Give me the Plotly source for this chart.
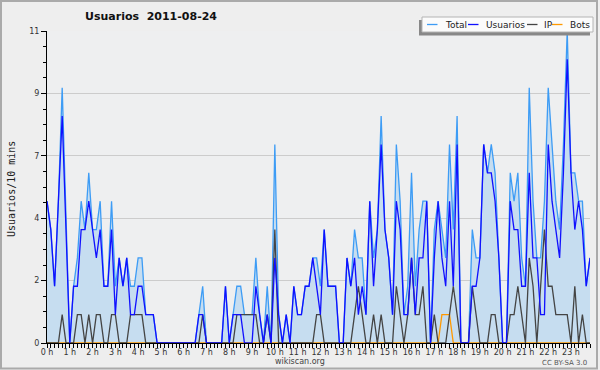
import plotly.graph_objects as go

# ---- data (10-minute slots, 2011-08-24) ----
slot_minutes = list(range(0, 1440, 10))
usuarios = [5,4,2,5,8,4,0,2,2,4,4,5,4,3,4,2,2,4,1,3,2,3,1,1,2,2,1,1,1,0,
            0,0,0,0,0,0,0,0,0,0,1,1,0,0,0,0,0,2,0,1,1,1,0,0,0,2,1,0,1,0,
            3,1,0,1,0,2,1,1,2,2,3,2,1,4,2,2,2,0,0,3,2,3,1,2,1,5,2,4,7,4,
            3,1,5,4,1,1,3,1,3,3,5,0,3,5,3,2,5,2,7,0,0,0,2,2,3,7,6,6,5,3,
            0,0,5,4,4,2,2,6,3,3,1,1,7,5,4,3,6,10,6,4,5,4,2,3]
ip = [0,0,0,0,1,0,0,0,1,1,0,1,0,1,1,0,0,1,1,0,0,0,1,1,1,1,0,0,0,0,
      0,0,0,0,0,0,0,0,0,0,0,1,0,0,0,0,0,0,0,0,1,1,1,1,1,1,0,0,1,0,
      4,0,0,0,0,0,0,0,0,0,0,1,1,0,0,0,0,0,0,0,0,1,2,1,0,0,1,0,1,0,
      0,0,2,1,0,1,3,1,1,2,0,0,1,0,0,0,1,2,1,0,0,0,2,1,0,0,0,1,1,0,
      0,0,1,1,2,1,0,3,2,0,2,4,2,2,1,1,1,1,0,2,0,1,0,0]
bots = [0]*104 + [1,1,1] + [0]*37
total = [5,4,2,5,9,4,0,2,3,5,4,6,4,4,5,2,2,5,2,3,2,3,2,2,3,3,1,1,1,0,
         0,0,0,0,0,0,0,0,0,0,1,2,0,0,0,0,0,2,0,1,2,2,1,1,1,3,1,0,2,0,
         7,1,0,1,0,2,1,1,2,2,3,3,2,4,2,2,2,0,0,3,2,4,3,3,1,5,3,4,8,4,
         3,1,7,5,1,2,6,2,4,5,5,0,4,5,4,3,7,4,8,0,0,0,4,3,3,7,6,7,6,3,
         0,0,6,5,6,3,2,9,5,3,3,5,9,7,5,4,7,11,6,6,5,5,2,3]
hour_labels = [f"{h} h" for h in range(24)]
y_tick_values = [0, 2.2, 4.4, 6.6, 8.8, 11]
y_tick_labels = ["0", "2", "4", "7", "9", "11"]
y_minor_values = [0.55, 1.1, 1.65, 2.75, 3.3, 3.85, 4.95, 5.5, 6.05,
                  7.15, 7.7, 8.25, 9.35, 9.9, 10.45]

W, H = 600, 370
ML, MR, MT, MB = 47, 10, 31, 27
PW, PH = W - ML - MR, H - MT - MB

def px(x):
    return (x - ML) / PW

def py(y):
    return (H - MB - y) / PH

fig = go.Figure()
fig.add_trace(go.Scatter(x=slot_minutes, y=total, name="Total", mode="lines",
                         line=dict(color="#3d9cf5", width=1.3),
                         fill="tozeroy", fillcolor="#c6ddf0"))
fig.add_trace(go.Scatter(x=slot_minutes, y=bots, name="Bots", mode="lines",
                         line=dict(color="#ff9900", width=1.3)))
fig.add_trace(go.Scatter(x=slot_minutes, y=ip, name="IP", mode="lines",
                         line=dict(color="#444444", width=1.3)))
fig.add_trace(go.Scatter(x=slot_minutes, y=usuarios, name="Usuarios", mode="lines",
                         line=dict(color="#1010ff", width=1.3)))

fig.update_layout(
    width=W, height=H,
    margin=dict(l=ML, r=MR, t=MT, b=MB, pad=0),
    paper_bgcolor="#eeeeee",
    plot_bgcolor="#eeeff0",
    showlegend=False,
    font=dict(family="DejaVu Sans", size=8, color="#333333"),
    title=dict(text="Usuarios  2011-08-24", x=151 / W, xanchor="center",
               y=1 - 16 / H, yanchor="middle", yref="container",
               font=dict(family="DejaVu Sans", size=11, color="#111111", weight="bold")),
)
fig.update_xaxes(range=[0, 1430], showgrid=False, zeroline=False,
                 showline=True, linecolor="black", linewidth=1,
                 tickvals=[h * 60 for h in range(24)], ticktext=hour_labels,
                 ticks="outside", ticklen=4, tickcolor="black", tickwidth=1,
                 ticklabelstandoff=-3,
                 minor=dict(dtick=10, ticks="outside", ticklen=4, tickcolor="black", tickwidth=1),
                 tickfont=dict(size=8, color="#333333"), layer="above traces",
                 fixedrange=True)
fig.update_yaxes(range=[0, 11], showgrid=True, gridcolor="#cccccc", gridwidth=1,
                 zeroline=False, showline=True, linecolor="black", linewidth=1,
                 tickvals=y_tick_values, ticktext=y_tick_labels,
                 ticks="outside", ticklen=5, tickcolor="black", tickwidth=1,
                 minor=dict(tickvals=y_minor_values, ticks="outside",
                            ticklen=3, tickcolor="black", showgrid=False),
                 tickfont=dict(size=8, color="#333333"), layer="above traces",
                 fixedrange=True)

shapes = []
# outer frame
shapes.append(dict(type="rect", xref="paper", yref="paper",
                   x0=px(1), x1=px(597), y0=py(368.5), y1=py(1),
                   line=dict(color="#aaaaaa", width=2), fillcolor="rgba(0,0,0,0)", layer="above"))
# legend shadow + box
shapes.append(dict(type="rect", xref="paper", yref="paper",
                   x0=px(419), x1=px(590), y0=py(35.5), y1=py(20),
                   line=dict(width=0), fillcolor="#888888", layer="above"))
shapes.append(dict(type="rect", xref="paper", yref="paper",
                   x0=px(422), x1=px(593), y0=py(32), y1=py(17),
                   line=dict(color="#b4b4b4", width=1), fillcolor="#fbfbfb", layer="above"))
legend_items = [("Total", "#3d9cf5", 427, 442.5),
                ("Usuarios", "#1010ff", 468, 483.5),
                ("IP", "#444444", 527, 541.5),
                ("Bots", "#ff9900", 552, 567.5)]
annotations = []
for name, color, lx, tx in legend_items:
    shapes.append(dict(type="line", xref="paper", yref="paper",
                       x0=px(lx), x1=px(lx + 10.5), y0=py(24.5), y1=py(24.5),
                       line=dict(color=color, width=1.3), layer="above"))
    annotations.append(dict(text=name, xref="paper", yref="paper",
                            x=px(tx), y=py(24.5), xanchor="left", yanchor="middle",
                            showarrow=False,
                            font=dict(family="DejaVu Sans", size=9, color="#222222")))

annotations.append(dict(text="Usuarios/10 mins", xref="paper", yref="paper",
                        x=px(11), y=py(189), textangle=-90, showarrow=False,
                        xanchor="center", yanchor="middle",
                        font=dict(family="DejaVu Sans Mono", size=10, color="#222222")))
annotations.append(dict(text="wikiscan.org", xref="paper", yref="paper",
                        x=px(300), y=py(361.5), showarrow=False,
                        xanchor="center", yanchor="middle",
                        font=dict(family="DejaVu Sans", size=8, color="#444444")))
annotations.append(dict(text="CC BY-SA 3.0", xref="paper", yref="paper",
                        x=px(589), y=py(362.5), showarrow=False,
                        xanchor="right", yanchor="middle",
                        font=dict(family="DejaVu Sans", size=7, color="#555555")))

fig.update_layout(shapes=shapes, annotations=annotations)
fig.write_html("out.html", config={"displayModeBar": False},
               post_script="document.body.style.margin='0';document.body.style.padding='0';")
